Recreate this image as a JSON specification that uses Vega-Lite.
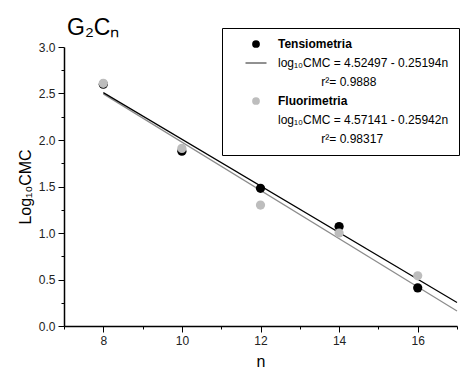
{
  "$schema": "https://vega.github.io/schema/vega-lite/v6.json",
  "width": 393,
  "height": 279,
  "autosize": {"type": "none"},
  "padding": {"left": 64, "top": 47, "right": 12, "bottom": 42},
  "background": "white",
  "config": {
    "font": "Liberation Sans",
    "view": {"stroke": null},
    "axis": {"grid": false, "domainColor": "black", "domainWidth": 1.5, "tickColor": "black", "tickWidth": 1, "labelColor": "#222", "labelFontSize": 12, "titleFontWeight": "normal", "titleFontSize": 16, "titleColor": "black", "labelFont": "Liberation Sans", "titleFont": "Liberation Sans"}
  },
  "title": {"text": "G₂Cₙ", "fontSize": 23, "fontWeight": "normal", "color": "black", "anchor": "start", "frame": "group", "dx": 3, "dy": 22, "offset": -8, "baseline": "alphabetic", "font": "Liberation Sans"},
  "datasets": {
    "pts": [
      {"n": 8, "v": 2.60, "series": "Tensiometria"},
      {"n": 10, "v": 1.88, "series": "Tensiometria"},
      {"n": 12, "v": 1.48, "series": "Tensiometria"},
      {"n": 14, "v": 1.07, "series": "Tensiometria"},
      {"n": 16, "v": 0.41, "series": "Tensiometria"},
      {"n": 8, "v": 2.61, "series": "Fluorimetria"},
      {"n": 10, "v": 1.91, "series": "Fluorimetria"},
      {"n": 12, "v": 1.30, "series": "Fluorimetria"},
      {"n": 14, "v": 1.00, "series": "Fluorimetria"},
      {"n": 16, "v": 0.54, "series": "Fluorimetria"}
    ],
    "fits": [
      {"n": 8, "v": 2.5094, "series": "Tensiometria"},
      {"n": 17, "v": 0.2520, "series": "Tensiometria"},
      {"n": 8, "v": 2.4960, "series": "Fluorimetria"},
      {"n": 17, "v": 0.1614, "series": "Fluorimetria"}
    ]
  },
  "resolve": {"axis": {"x": "independent", "y": "independent"}},
  "layer": [
    {
      "data": {"name": "fits"},
      "transform": [{"filter": "datum.series == 'Fluorimetria'"}],
      "mark": {"type": "line", "color": "#8c8c8c", "strokeWidth": 1.2},
      "encoding": {
        "x": {"field": "n", "type": "quantitative", "scale": {"domain": [7, 17], "nice": false, "zero": false},
              "axis": {"orient": "bottom", "values": [7, 9, 11, 13, 15, 17], "labels": false, "domain": false, "title": null, "tickSize": 3}},
        "y": {"field": "v", "type": "quantitative", "scale": {"domain": [0, 3], "nice": false},
              "axis": {"orient": "left", "values": [0.25, 0.75, 1.25, 1.75, 2.25, 2.75], "labels": false, "domain": false, "title": null, "tickSize": 3}}
      }
    },
    {
      "data": {"name": "fits"},
      "transform": [{"filter": "datum.series == 'Tensiometria'"}],
      "mark": {"type": "line", "color": "black", "strokeWidth": 1.2},
      "encoding": {
        "x": {"field": "n", "type": "quantitative", "scale": {"domain": [7, 17], "nice": false, "zero": false},
              "axis": {"orient": "bottom", "values": [8, 10, 12, 14, 16], "title": "n", "tickSize": 6, "labelPadding": 3, "titlePadding": 7}},
        "y": {"field": "v", "type": "quantitative", "scale": {"domain": [0, 3], "nice": false},
              "axis": {"orient": "left", "values": [0, 0.5, 1, 1.5, 2, 2.5, 3], "format": ".1f", "title": "Log₁₀CMC", "tickSize": 6, "labelPadding": 3, "titlePadding": 5}}
      }
    },
    {
      "data": {"name": "pts"},
      "mark": {"type": "point", "filled": true, "size": 85, "opacity": 1},
      "encoding": {
        "x": {"field": "n", "type": "quantitative", "axis": null},
        "y": {"field": "v", "type": "quantitative", "axis": null},
        "color": {
          "field": "series", "type": "nominal",
          "scale": {
            "domain": ["Tensiometria", "log₁₀CMC = 4.52497 - 0.25194n", "\u200b\u00a0\u00a0\u00a0\u00a0\u00a0\u00a0\u00a0\u00a0\u00a0\u00a0\u00a0\u00a0\u00a0r²= 0.9888", "Fluorimetria", "log₁₀CMC = 4.57141 - 0.25942n", "\u200b\u00a0\u00a0\u00a0\u00a0\u00a0\u00a0\u00a0\u00a0\u00a0\u00a0\u00a0\u00a0\u00a0r²= 0.98317"],
            "range": ["black", "black", "transparent", "#bdbdbd", "transparent", "transparent"]
          },
          "legend": {
            "orient": "none", "legendX": 158, "legendY": -19,
            "title": null, "strokeColor": "black", "fillColor": "white", "padding": 10,
            "symbolOffset": 18, "labelOffset": 16, "labelFontSize": 12, "labelColor": "black",
            "labelLimit": 400, "rowPadding": 7, "labelFont": "Liberation Sans",
            "symbolType": {"expr": "datum.value == 'log₁₀CMC = 4.52497 - 0.25194n' ? 'stroke' : 'circle'"},
            "symbolSize": {"expr": "datum.value == 'log₁₀CMC = 4.52497 - 0.25194n' ? 441 : 60"},
            "symbolStrokeColor": {"expr": "datum.value == 'log₁₀CMC = 4.52497 - 0.25194n' ? '#222' : 'transparent'"},
            "symbolStrokeWidth": 1,
            "labelFontWeight": {"expr": "datum.value == 'Tensiometria' || datum.value == 'Fluorimetria' ? 'bold' : 'normal'"}
          }
        }
      }
    }
  ]
}
